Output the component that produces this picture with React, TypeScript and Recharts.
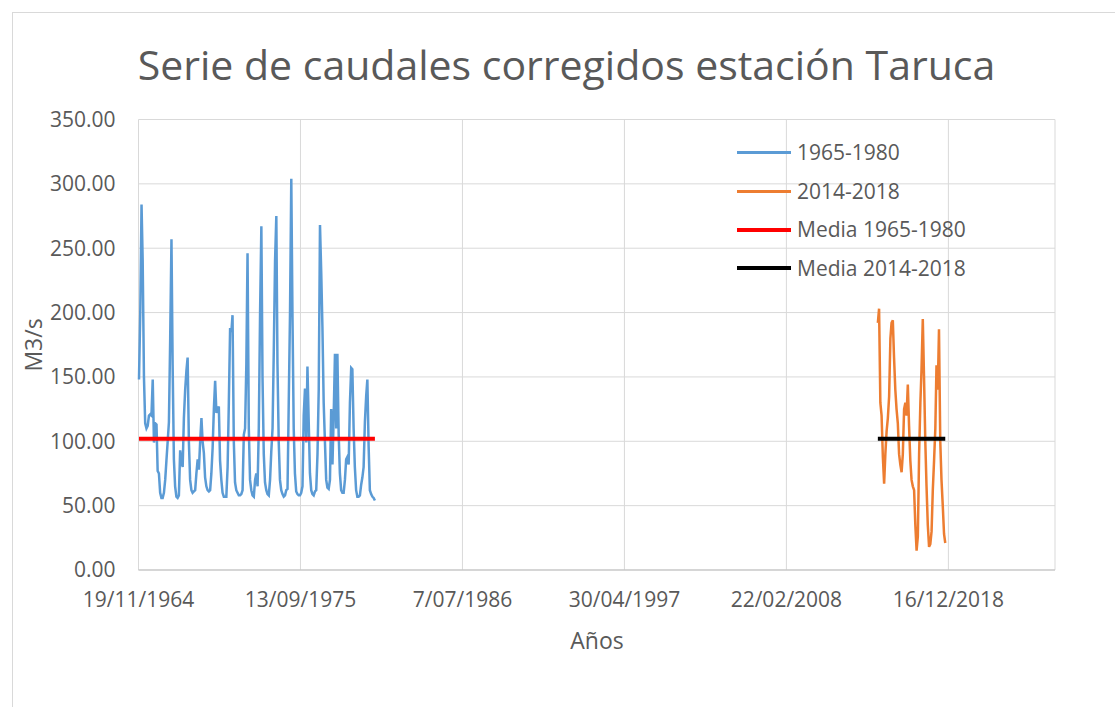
import { LineChart, Line, XAxis, YAxis, CartesianGrid, Legend } from 'recharts';

// Excel-style serial dates (days since 30/12/1899)
const EXCEL_EPOCH = Date.UTC(1899, 11, 30);
const DAY = 86400000;

const toSerial = (year: number, month: number) =>
  Math.round((Date.UTC(year, month - 1, 1) - EXCEL_EPOCH) / DAY);

const fmtDate = (v: number) => {
  const d = new Date(EXCEL_EPOCH + v * DAY);
  return `${d.getUTCDate()}/${String(d.getUTCMonth() + 1).padStart(2, '0')}/${d.getUTCFullYear()}`;
};

// monthly flows, first month of each record
const startOld: [number, number] = [1964, 12];
const startNew: [number, number] = [2014, 4];

const flowOld = [
  148, 200, 284, 240, 150, 114, 110, 112, 120, 121, 120, 148,
  99, 114, 113, 77, 75, 60, 56, 56, 60, 70, 85, 100,
  115, 180, 257, 160, 86, 65, 57, 56, 58, 93, 85, 80,
  118, 140, 155, 165, 99, 70, 62, 60, 61, 62, 75, 86,
  78, 100, 118, 100, 91, 72, 65, 62, 61, 62, 75, 95,
  125, 147, 122, 125, 127, 85, 70, 60, 57, 57, 57, 80,
  130, 188, 185, 198, 100, 68, 62, 60, 58, 58, 59, 62,
  105, 110, 160, 246, 110, 70, 62, 58, 57, 70, 75, 65,
  111, 200, 267, 150, 90, 68, 62, 59, 58, 70, 92, 110,
  170, 240, 275, 160, 99, 70, 62, 59, 57, 58, 62, 63,
  130, 200, 304, 200, 110, 75, 61, 59, 58, 58, 60, 65,
  120, 141, 99, 158, 115, 75, 62, 59, 58, 61, 62, 90,
  140, 268, 230, 189, 130, 100, 70, 64, 63, 70, 125, 82,
  120, 168, 110, 168, 106, 75, 62, 60, 60, 70, 86, 88,
  82, 130, 157, 156, 110, 80, 62, 57, 57, 58, 66, 72,
  80, 115, 135, 148, 96, 62, 59, 57, 56, 54,
];

const flowNew = [
  192, 203, 130, 120, 88, 67, 90, 108, 118, 135, 180, 192,
  194, 165, 140, 125, 114, 90, 82, 76, 90, 125, 130, 120,
  144, 112, 85, 70, 65, 62, 35, 15, 26, 90, 130, 156,
  195, 150, 100, 65, 35, 18, 20, 30, 62, 85, 110, 159,
  140, 187, 100, 70, 50, 28, 21,
];

const meanOld = 102;
const meanNew = 102;

const xTicks = [23700, 27650, 31600, 35550, 39500, 43450];
const yTicks = [0, 50, 100, 150, 200, 250, 300, 350];

const monthly = (start: [number, number], values: number[]) =>
  values.map((q, i) => ({ x: toSerial(start[0], start[1] + i), q }));

const seriesOld = monthly(startOld, flowOld);
const seriesNew = monthly(startNew, flowNew);
const meanOldLine = [
  { x: seriesOld[0].x, q: meanOld },
  { x: seriesOld[seriesOld.length - 1].x, q: meanOld },
];
const meanNewLine = [
  { x: seriesNew[0].x, q: meanNew },
  { x: seriesNew[seriesNew.length - 1].x, q: meanNew },
];

const FONT = '"Open Sans", sans-serif';
const GREY = '#595959';

function LegendBox({ payload }: any) {
  return (
    <div style={{ fontFamily: FONT, fontSize: 21, color: GREY }}>
      {(payload || []).map((p: any) => (
        <div key={p.value} style={{ display: 'flex', alignItems: 'center', height: 38.5 }}>
          <span
            style={{
              display: 'inline-block',
              width: 54,
              height: String(p.value).startsWith('Media') ? 4 : 3,
              background: p.color,
              marginRight: 6,
            }}
          />
          <span style={{ lineHeight: 1 }}>{p.value}</span>
        </div>
      ))}
    </div>
  );
}

export default function App() {
  return (
    <div style={{ position: 'absolute', left: 0, top: 0, width: 1115, height: 707, background: '#fff', overflow: 'hidden' }}>
      <div style={{ position: 'absolute', left: 12, top: 12, width: 1200, height: 800, border: '1px solid #d9d9d9' }} />
      <div
        style={{
          position: 'absolute', left: 0, top: 43.5, width: 1133, textAlign: 'center',
          fontFamily: FONT, fontSize: 41, lineHeight: 1, color: GREY,
        }}
      >
        Serie de caudales corregidos estación Taruca
      </div>
      <div
        style={{
          position: 'absolute', left: 0, top: 628.5, width: 1194, textAlign: 'center',
          fontFamily: FONT, fontSize: 23, lineHeight: 1, color: GREY,
        }}
      >
        Años
      </div>
      <div
        style={{
          position: 'absolute', left: 33, top: 345, transform: 'translate(-50%, -50%) rotate(-90deg)',
          fontFamily: FONT, fontSize: 23, lineHeight: 1, color: GREY, whiteSpace: 'nowrap',
        }}
      >
        M3/s
      </div>
      <LineChart
        width={1115}
        height={707}
        margin={{ top: 119.5, right: 60, bottom: 0, left: 0 }}
        style={{ position: 'absolute', left: 0, top: 0, fontFamily: FONT }}
      >
        <CartesianGrid stroke="#d9d9d9" />
        <XAxis
          type="number"
          dataKey="x"
          domain={[23700, 46050]}
          ticks={xTicks}
          interval={0}
          tickFormatter={fmtDate}
          axisLine={{ stroke: '#bfbfbf' }}
          tickLine={false}
          tickSize={0}
          tickMargin={22}
          height={137}
          tick={{ fill: GREY, fontSize: 21 }}
        />
        <YAxis
          type="number"
          domain={[0, 350]}
          ticks={yTicks}
          interval={0}
          tickFormatter={(v: number) => v.toFixed(2)}
          axisLine={false}
          tickLine={false}
          tickSize={0}
          tickMargin={23}
          width={138.5}
          tick={{ fill: GREY, fontSize: 21 }}
        />
        <Legend
          layout="vertical"
          align="center"
          verticalAlign="middle"
          content={<LegendBox />}
          wrapperStyle={{ left: 737, top: 133.5, width: 260 }}
        />
        <Line data={seriesOld} dataKey="q" name="1965-1980" type="linear" stroke="#5b9bd5" strokeWidth={2.5} dot={false} isAnimationActive={false} />
        <Line data={seriesNew} dataKey="q" name="2014-2018" type="linear" stroke="#ed7d31" strokeWidth={2.5} dot={false} isAnimationActive={false} />
        <Line data={meanOldLine} dataKey="q" name="Media 1965-1980" type="linear" stroke="#ff0000" strokeWidth={4} dot={false} isAnimationActive={false} />
        <Line data={meanNewLine} dataKey="q" name="Media 2014-2018" type="linear" stroke="#000000" strokeWidth={4} dot={false} isAnimationActive={false} />
      </LineChart>
    </div>
  );
}
